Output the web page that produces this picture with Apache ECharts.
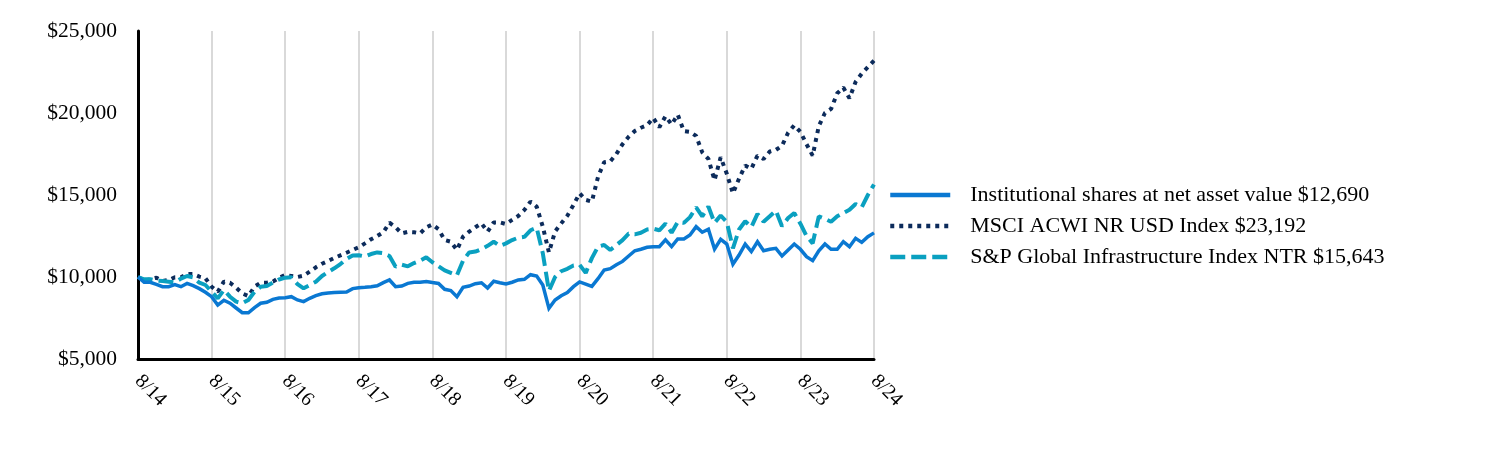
<!DOCTYPE html>
<html>
<head>
<meta charset="utf-8">
<script src="https://cdn.jsdelivr.net/npm/echarts@6/dist/echarts.min.js"></script>
<style>
html,body{margin:0;padding:0;background:#fff;}
#chart{width:1512px;height:456px;}
</style>
</head>
<body>
<div id="chart"></div>
<script>
// Monthly, 8/2014 .. 8/2024 (121 points)
const tickLabels = ['8/14','8/15','8/16','8/17','8/18','8/19','8/20','8/21','8/22','8/23','8/24'];
const categories = [];
for (let k = 0; k < 121; k++) {
  const m = ((7 + k) % 12) + 1;
  const y = 14 + Math.floor((7 + k) / 12);
  categories.push(m + '/' + y);
}
const seriesNames = [
  'Institutional shares at net asset value $12,690',
  'MSCI ACWI NR USD Index $23,192',
  'S&P Global Infrastructure Index NTR $15,643'
];
const institutional = [
  10000, 9680, 9680, 9550, 9410, 9410, 9530, 9410, 9610, 9470, 9290, 9070, 8800, 8290, 8580, 8400, 8110, 7820, 7820, 8130, 8400, 8460, 8640, 8720, 8740,
  8800, 8600, 8500, 8700, 8860, 8980, 9030, 9050, 9070, 9090, 9290, 9350, 9370, 9410, 9470, 9660, 9820, 9410, 9450, 9610, 9680, 9680, 9720, 9660,
  9610, 9250, 9170, 8800, 9370, 9450, 9590, 9650, 9330, 9740, 9650, 9570, 9680, 9820, 9860, 10140, 10060, 9510, 8090, 8600, 8860, 9050, 9410, 9700,
  9570, 9430, 9900, 10430, 10510, 10750, 10950, 11280, 11600, 11690, 11810, 11850, 11850, 12260, 11850, 12320, 12320, 12560, 13070, 12730, 12910, 11700, 12300, 12010,
  10780, 11340, 12010, 11550, 12150, 11600, 11690, 11750, 11280, 11650, 12010, 11690, 11240, 11000, 11600, 12010, 11690, 11690, 12150, 11850, 12360, 12110, 12460, 12690
];
const msci = [
  10000, 9780, 9860, 9960, 9760, 9820, 9980, 9980, 10180, 10180, 10020, 9920, 9410, 9100, 9720, 9650, 9350, 9000, 8840, 9410, 9650, 9650, 9720, 9960, 10120,
  10060, 10000, 10080, 10330, 10590, 10810, 10980, 11160, 11320, 11480, 11650, 11810, 12050, 12300, 12500, 12730, 13310, 13030, 12660, 12750, 12730, 12660, 13030, 13200,
  12910, 12260, 12150, 11650, 12460, 12770, 13030, 13270, 12770, 13330, 13330, 13230, 13480, 13720, 14090, 14600, 14290, 13070, 11500, 12770, 13270, 13740, 14390, 15100,
  14700, 14600, 16100, 17000, 17050, 17500, 18100, 18550, 18900, 19100, 19250, 19700, 19130, 19800, 19300, 19900, 18900, 18850, 18600, 17600, 17200, 15900, 17300, 16300,
  15100, 16000, 16800, 16600, 17400, 17200, 17650, 17750, 18000, 18800, 19250, 18850, 18100, 17400, 19200, 20000, 20250, 21200, 21550, 20900, 21900, 22400, 22800, 23192
];
const infra = [
  10000, 9860, 9860, 9775, 9756, 9716, 9676, 9900, 10060, 9980, 9655, 9512, 9105, 8700, 9208, 8800, 8496, 8395, 8600, 9105, 9410, 9450, 9655, 9850, 9960,
  9980, 9570, 9310, 9510, 9716, 10060, 10305, 10530, 10790, 11100, 11310, 11330, 11250, 11400, 11500, 11450, 11280, 10630, 10750, 10650, 10850, 11000, 11200, 10900,
  10650, 10400, 10250, 10100, 11000, 11500, 11550, 11700, 11900, 12150, 11900, 12050, 12250, 12400, 12450, 12850, 13000, 11450, 9150, 10000, 10350, 10500, 10700, 10750,
  10250, 11150, 11850, 11950, 11650, 11950, 12250, 12650, 12600, 12700, 12900, 12950, 12850, 13250, 12700, 13350, 13300, 13650, 14250, 13700, 14300, 13300, 13750, 13350,
  11750, 12900, 13400, 13050, 13850, 13370, 13700, 14050, 13100, 13600, 13900, 13250, 12500, 12050, 13700, 13550, 13370, 13700, 13900, 14100, 14450, 14250, 15000, 15643
];
const yTicks = [5000, 10000, 15000, 20000, 25000];

const FONT = 'Liberation Serif';
const chart = echarts.init(document.getElementById('chart'), null, {renderer: 'canvas'});
chart.setOption({
  animation: false,
  backgroundColor: '#fff',
  grid: {left: 138, right: 638, top: 31, bottom: 97, containLabel: false},
  legend: {
    orient: 'vertical',
    left: 888,
    top: 184,
    padding: 0,
    itemWidth: 60,
    itemHeight: 14,
    itemGap: 9,
    itemStyle: {color: 'rgba(0,0,0,0)', borderColor: 'rgba(0,0,0,0)', borderWidth: 0, opacity: 0},
    lineStyle: {width: 4.5},
    textStyle: {fontFamily: FONT, fontSize: 22, lineHeight: 20, color: '#000', padding: [0, 0, 0, 15]},
    data: seriesNames
  },
  xAxis: {
    type: 'category',
    data: categories,
    boundaryGap: false,
    axisLine: {show: true, lineStyle: {color: '#000', width: 3}},
    axisTick: {show: false},
    axisLabel: {
      interval: function (i) { return tickLabels.indexOf(categories[i]) >= 0; },
      rotate: -45,
      margin: 19,
      fontFamily: FONT, fontSize: 20, color: '#000'
    },
    splitLine: {
      show: true,
      interval: function (i) { return tickLabels.indexOf(categories[i]) >= 0; },
      lineStyle: {color: '#d9d9d9', width: 2}
    }
  },
  yAxis: {
    type: 'value',
    min: yTicks[0], max: yTicks[yTicks.length - 1], interval: 5000,
    axisLine: {show: true, lineStyle: {color: '#000', width: 3}},
    axisTick: {show: false},
    splitLine: {show: false},
    axisLabel: {
      margin: 21,
      fontFamily: FONT, fontSize: 21.5, color: '#000',
      formatter: v => '$' + v.toLocaleString('en-US')
    }
  },
  series: [
    {name: seriesNames[0], type: 'line', data: institutional, symbol: 'none', z: 5,
     lineStyle: {color: '#0a78d2', width: 3.5, cap: 'butt', join: 'miter'}, itemStyle: {color: '#0a78d2'}},
    {name: seriesNames[1], type: 'line', data: msci, symbol: 'none', z: 3,
     lineStyle: {color: '#0c2b5b', width: 4, type: [4, 5], cap: 'butt'}, itemStyle: {color: '#0c2b5b'}},
    {name: seriesNames[2], type: 'line', data: infra, symbol: 'none', z: 4,
     lineStyle: {color: '#0aa0c0', width: 4, type: [15, 6], cap: 'butt'}, itemStyle: {color: '#0aa0c0'}}
  ]
});
</script>
</body>
</html>
